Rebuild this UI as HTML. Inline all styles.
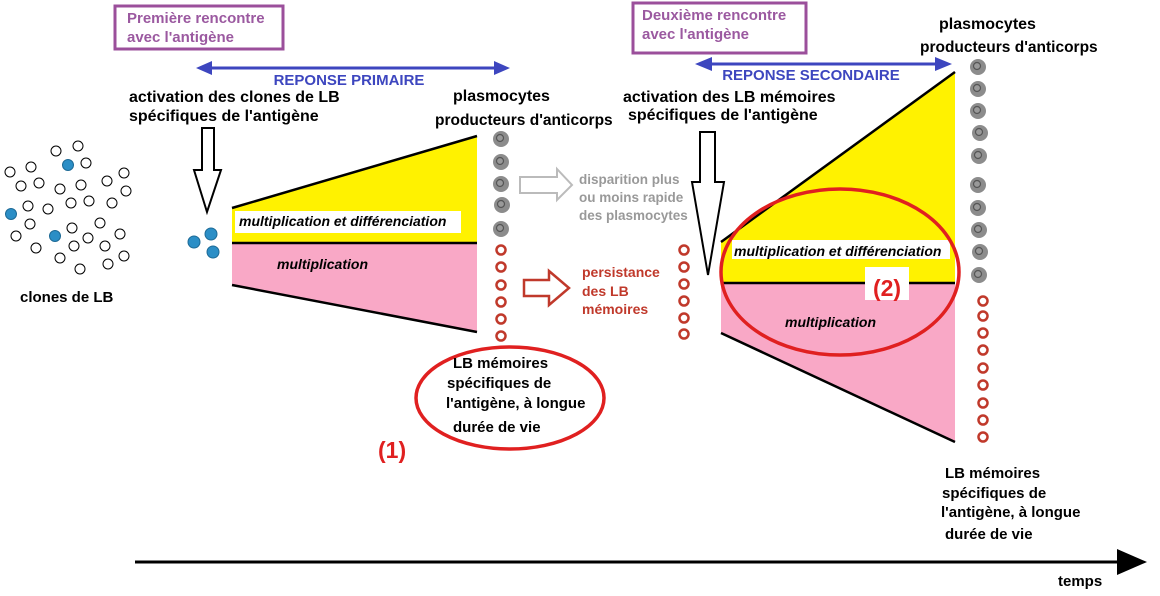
<!DOCTYPE html>
<html><head><meta charset="utf-8"><style>
html,body{margin:0;padding:0;background:#fff;}
svg{display:block;font-family:"Liberation Sans",Arial,sans-serif;font-weight:bold;}
</style></head><body>
<svg width="1160" height="596" viewBox="0 0 1160 596" xmlns="http://www.w3.org/2000/svg">
<defs>
<g id="pl"><circle r="8" fill="#8c8c8c"/><circle r="3.5" cx="-1" cy="-1" fill="#999" stroke="#555" stroke-width="1.2"/></g>
<g id="rc"><circle r="4.5" fill="#fff" stroke="#c0392b" stroke-width="2.5"/></g>
</defs>

<rect x="115" y="6" width="168" height="43" fill="#fff" stroke="#9b4f9b" stroke-width="3"/>
<text x="127" y="23" font-size="15" fill="#9b59a0">Première rencontre</text>
<text x="127" y="42" font-size="15" fill="#9b59a0">avec l'antigène</text>
<rect x="633" y="3" width="173" height="50" fill="#fff" stroke="#9b4f9b" stroke-width="3"/>
<text x="642" y="20" font-size="15" fill="#9b59a0">Deuxième rencontre</text>
<text x="642" y="39" font-size="15" fill="#9b59a0">avec l'antigène</text>

<line x1="205" y1="68" x2="502" y2="68" stroke="#3d46bf" stroke-width="3"/>
<polygon points="196,68 212,61 212,75" fill="#3d46bf"/>
<polygon points="510,68 494,61 494,75" fill="#3d46bf"/>
<text x="349" y="85" font-size="15" fill="#3d46bf" text-anchor="middle">REPONSE PRIMAIRE</text>
<line x1="704" y1="64" x2="944" y2="64" stroke="#3d46bf" stroke-width="3"/>
<polygon points="695,64 712,57 712,71" fill="#3d46bf"/>
<polygon points="952,64 935,57 935,71" fill="#3d46bf"/>
<text x="811" y="80" font-size="15" fill="#3d46bf" text-anchor="middle">REPONSE SECONDAIRE</text>

<text x="129" y="102" font-size="16" fill="#000">activation des clones de LB</text>
<text x="129" y="121" font-size="16" fill="#000">spécifiques de l'antigène</text>
<text x="453" y="101" font-size="16" fill="#000">plasmocytes</text>
<text x="435" y="125" font-size="15.5" fill="#000">producteurs d'anticorps</text>
<text x="623" y="102" font-size="16" fill="#000">activation des LB mémoires</text>
<text x="628" y="120" font-size="16" fill="#000">spécifiques de l'antigène</text>
<text x="939" y="29" font-size="16" fill="#000">plasmocytes</text>
<text x="920" y="52" font-size="15.5" fill="#000">producteurs d'anticorps</text>

<g fill="#fff" stroke="#000" stroke-width="1">
<circle cx="56" cy="151" r="5"/><circle cx="78" cy="146" r="5"/><circle cx="86" cy="163" r="5"/><circle cx="31" cy="167" r="5"/><circle cx="10" cy="172" r="5"/><circle cx="21" cy="186" r="5"/><circle cx="39" cy="183" r="5"/><circle cx="60" cy="189" r="5"/><circle cx="81" cy="185" r="5"/><circle cx="107" cy="181" r="5"/><circle cx="124" cy="173" r="5"/><circle cx="126" cy="191" r="5"/><circle cx="28" cy="206" r="5"/><circle cx="48" cy="209" r="5"/><circle cx="71" cy="203" r="5"/><circle cx="89" cy="201" r="5"/><circle cx="112" cy="203" r="5"/><circle cx="30" cy="224" r="5"/><circle cx="72" cy="228" r="5"/><circle cx="100" cy="223" r="5"/><circle cx="16" cy="236" r="5"/><circle cx="36" cy="248" r="5"/><circle cx="88" cy="238" r="5"/><circle cx="74" cy="246" r="5"/><circle cx="105" cy="246" r="5"/><circle cx="120" cy="234" r="5"/><circle cx="60" cy="258" r="5"/><circle cx="80" cy="269" r="5"/><circle cx="108" cy="264" r="5"/><circle cx="124" cy="256" r="5"/>
</g>
<g fill="#2b8ec6" stroke="#1d6a96" stroke-width="1">
<circle cx="68" cy="165" r="5.5"/><circle cx="11" cy="214" r="5.5"/><circle cx="55" cy="236" r="5.5"/>
<circle cx="211" cy="234" r="6"/><circle cx="194" cy="242" r="6"/><circle cx="213" cy="252" r="6"/>
</g>
<text x="20" y="302" font-size="15" fill="#000">clones de LB</text>

<polygon points="202,128 214,128 214,170 221,170 207,212 194,170 202,170" fill="#fff" stroke="#000" stroke-width="2"/>
<polygon points="700,132 715,132 715,182 724,182 708,275 692,182 700,182" fill="#fff" stroke="#000" stroke-width="2"/>

<polygon points="232,208 477,136 477,243 232,243" fill="#fff200"/>
<polygon points="232,243 477,243 477,332 232,285" fill="#f9a8c6"/>
<line x1="232" y1="208" x2="477" y2="136" stroke="#000" stroke-width="2.5"/>
<line x1="232" y1="243" x2="477" y2="243" stroke="#000" stroke-width="2.5"/>
<line x1="232" y1="285" x2="477" y2="332" stroke="#000" stroke-width="2.5"/>
<rect x="235" y="211" width="226" height="22" fill="#fff"/>
<text x="239" y="226" font-size="14" font-style="italic" fill="#000">multiplication et différenciation</text>
<text x="277" y="269" font-size="14" font-style="italic" fill="#000">multiplication</text>

<polygon points="721,242 955,72 955,283 721,283" fill="#fff200"/>
<polygon points="721,283 955,283 955,442 721,333" fill="#f9a8c6"/>
<line x1="721" y1="242" x2="955" y2="72" stroke="#000" stroke-width="2.5"/>
<line x1="721" y1="283" x2="955" y2="283" stroke="#000" stroke-width="2.5"/>
<line x1="721" y1="333" x2="955" y2="442" stroke="#000" stroke-width="2.5"/>
<rect x="732" y="240" width="218" height="19" fill="#fff"/>
<text x="734" y="256" font-size="14" font-style="italic" fill="#000">multiplication et différenciation</text>
<rect x="865" y="267" width="44" height="33" fill="#fff"/>
<text x="887" y="296" font-size="23" fill="#e02020" text-anchor="middle">(2)</text>
<text x="785" y="327" font-size="14" font-style="italic" fill="#000">multiplication</text>
<ellipse cx="840" cy="272" rx="119" ry="83" fill="none" stroke="#e02020" stroke-width="3.5"/>

<use href="#pl" x="501" y="139"/><use href="#pl" x="501" y="162"/><use href="#pl" x="501" y="184"/><use href="#pl" x="502" y="205"/><use href="#pl" x="501" y="229"/>
<use href="#rc" x="501" y="250"/><use href="#rc" x="501" y="267"/><use href="#rc" x="501" y="285"/><use href="#rc" x="501" y="302"/><use href="#rc" x="501" y="319"/><use href="#rc" x="501" y="336"/>
<use href="#rc" x="684" y="250"/><use href="#rc" x="684" y="267"/><use href="#rc" x="684" y="284"/><use href="#rc" x="684" y="301"/><use href="#rc" x="684" y="318"/><use href="#rc" x="684" y="334"/>
<use href="#pl" x="978" y="67"/><use href="#pl" x="978" y="89"/><use href="#pl" x="978" y="111"/><use href="#pl" x="980" y="133"/><use href="#pl" x="979" y="156"/><use href="#pl" x="978" y="185"/><use href="#pl" x="978" y="208"/><use href="#pl" x="979" y="230"/><use href="#pl" x="980" y="252"/><use href="#pl" x="979" y="275"/>
<use href="#rc" x="983" y="301"/><use href="#rc" x="983" y="316"/><use href="#rc" x="983" y="333"/><use href="#rc" x="983" y="350"/><use href="#rc" x="983" y="368"/><use href="#rc" x="983" y="385"/><use href="#rc" x="983" y="403"/><use href="#rc" x="983" y="420"/><use href="#rc" x="983" y="437"/>

<polygon points="520,177 557,177 557,169 572,185 557,200 557,193 520,193" fill="#fff" stroke="#bbb" stroke-width="2"/>
<text x="579" y="184" font-size="13.5" fill="#999">disparition plus</text>
<text x="579" y="202" font-size="13.5" fill="#999">ou moins rapide</text>
<text x="579" y="220" font-size="13.5" fill="#999">des plasmocytes</text>
<polygon points="524,280 549,280 549,271 569,288 549,305 549,296 524,296" fill="#fff" stroke="#c0392b" stroke-width="2.5"/>
<text x="582" y="277" font-size="14" fill="#c0392b">persistance</text>
<text x="582" y="296" font-size="14" fill="#c0392b">des LB</text>
<text x="582" y="314" font-size="14" fill="#c0392b">mémoires</text>

<ellipse cx="510" cy="398" rx="94" ry="51" fill="none" stroke="#e02020" stroke-width="3.5"/>
<text x="453" y="368" font-size="15" fill="#000">LB mémoires</text>
<text x="447" y="388" font-size="15" fill="#000">spécifiques de</text>
<text x="446" y="408" font-size="15" fill="#000">l'antigène, à longue</text>
<text x="453" y="432" font-size="15" fill="#000">durée de vie</text>
<text x="378" y="458" font-size="23" fill="#e02020">(1)</text>

<text x="945" y="478" font-size="15" fill="#000">LB mémoires</text>
<text x="942" y="498" font-size="15" fill="#000">spécifiques de</text>
<text x="941" y="517" font-size="15" fill="#000">l'antigène, à longue</text>
<text x="945" y="539" font-size="15" fill="#000">durée de vie</text>

<line x1="135" y1="562" x2="1120" y2="562" stroke="#000" stroke-width="3"/>
<polygon points="1117,549 1147,562 1117,575" fill="#000"/>
<text x="1058" y="586" font-size="15" fill="#000">temps</text>
</svg>
</body></html>
